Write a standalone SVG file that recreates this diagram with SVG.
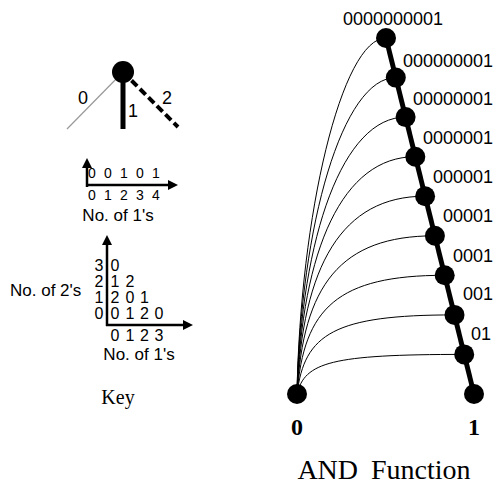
<svg xmlns="http://www.w3.org/2000/svg" width="496" height="487" viewBox="0 0 496 487">
<style>
.s{font-family:"Liberation Sans",Arial,sans-serif;fill:#000}
.t{font-family:"Liberation Serif","Times New Roman",serif;fill:#000}
.c{text-anchor:middle}
.e{text-anchor:end}
.d14{font-size:14px}
.d16{font-size:16px}
.d17{font-size:17px}
.d18{font-size:18px}
.nd{fill:#000}
.curve{fill:none;stroke:#000;stroke-width:1}
.ax{stroke:#000;stroke-width:2.5;fill:none}
</style>
<defs>
<marker id="ah" markerWidth="10" markerHeight="10" refX="0" refY="5" orient="auto" markerUnits="userSpaceOnUse">
<path d="M0,0 L10,5 L0,10 Z" fill="#000"/>
</marker>
</defs>
<rect width="496" height="487" fill="#fff"/>

<!-- Key: edge types -->
<g id="key-edges">
<line x1="123" y1="72" x2="67" y2="129" stroke="#999" stroke-width="1.2"/>
<line x1="123" y1="72" x2="123" y2="129" stroke="#000" stroke-width="5"/>
<line x1="123" y1="72" x2="178" y2="127" stroke="#000" stroke-width="4" stroke-dasharray="8 4"/>
<circle class="nd" cx="123" cy="72" r="11"/>
<text class="s d18 c" x="83" y="104">0</text>
<text class="s d18 c" x="133" y="117">1</text>
<text class="s d18 c" x="167" y="104">2</text>
</g>

<!-- Key: 1-D axis -->
<g id="key-axis1">
<line class="ax" x1="87" y1="187" x2="87" y2="168" marker-end="url(#ah)"/>
<line class="ax" x1="86" y1="185" x2="168" y2="185" marker-end="url(#ah)"/>
<text class="s d14 c" y="178"><tspan x="92">0</tspan><tspan x="108">0</tspan><tspan x="124">1</tspan><tspan x="140">0</tspan><tspan x="156">1</tspan></text>
<text class="s d14 c" y="200"><tspan x="92">0</tspan><tspan x="108">1</tspan><tspan x="124">2</tspan><tspan x="140">3</tspan><tspan x="156">4</tspan></text>
<text class="s d17 c" x="118" y="221">No. of 1's</text>
</g>

<!-- Key: 2-D axis -->
<g id="key-axis2">
<line class="ax" x1="107" y1="326" x2="107" y2="245" marker-end="url(#ah)"/>
<line class="ax" x1="106" y1="325" x2="183" y2="325" marker-end="url(#ah)"/>
<text class="s d16 c" x="99" y="271">3</text>
<text class="s d16 c" x="99" y="287">2</text>
<text class="s d16 c" x="99" y="303">1</text>
<text class="s d16 c" x="99" y="319">0</text>
<text class="s d16 c" y="271"><tspan x="115">0</tspan></text>
<text class="s d16 c" y="287"><tspan x="115">1</tspan><tspan x="130">2</tspan></text>
<text class="s d16 c" y="303"><tspan x="115">2</tspan><tspan x="130">0</tspan><tspan x="144.5">1</tspan></text>
<text class="s d16 c" y="319"><tspan x="115">0</tspan><tspan x="130">1</tspan><tspan x="144.5">2</tspan><tspan x="159">0</tspan></text>
<text class="s d16 c" y="341"><tspan x="115">0</tspan><tspan x="130">1</tspan><tspan x="144.5">2</tspan><tspan x="159">3</tspan></text>
<text class="s d17" x="10" y="296">No. of 2's</text>
<text class="s d17 c" x="139" y="360">No. of 1's</text>
</g>

<text id="key-label" class="t c" x="118" y="404" font-size="20">Key</text>

<!-- Connectors -->
<g id="connectors">
<path class="curve" d="M297,394 C300,216 341.5,38 386,38"/>
<path class="curve" d="M297,394 C300.6,223.9 342.7,77.6 395.8,77.6"/>
<path class="curve" d="M297,394 C301.3,234.8 343.2,117.1 405.6,117.1"/>
<path class="curve" d="M297,394 C301.9,248.7 342.8,156.7 415.3,156.7"/>
<path class="curve" d="M297,394 C302.5,265.4 341.8,196.2 425.1,196.2"/>
<path class="curve" d="M297,394 C303.1,285.2 340.1,235.8 434.9,235.8"/>
<path class="curve" d="M297,394 C303.8,307.9 337.6,275.3 444.7,275.3"/>
<path class="curve" d="M297,394 C304.4,333.7 334.4,314.9 454.5,314.9"/>
<path class="curve" d="M297,394 C305,362.3 330.4,354.4 464.2,354.4"/>
<line x1="386" y1="38" x2="474" y2="394" stroke="#000" stroke-width="5"/>
</g>

<!-- Nodes -->
<g id="n0"><circle class="nd" cx="297" cy="394" r="10"/><text class="t c" x="297" y="435" font-size="24" font-weight="bold">0</text></g>
<g id="n1"><circle class="nd" cx="386" cy="38" r="10"/><text class="s d18 c" x="393" y="25">0000000001</text></g>
<g id="n2"><circle class="nd" cx="395.8" cy="77.6" r="10"/><text class="s d18 e" x="493" y="67">000000001</text></g>
<g id="n3"><circle class="nd" cx="405.6" cy="117.1" r="10"/><text class="s d18 e" x="493" y="105">00000001</text></g>
<g id="n4"><circle class="nd" cx="415.3" cy="156.7" r="10"/><text class="s d18 e" x="493" y="144">0000001</text></g>
<g id="n5"><circle class="nd" cx="425.1" cy="196.2" r="10"/><text class="s d18 e" x="493" y="183">000001</text></g>
<g id="n6"><circle class="nd" cx="434.9" cy="235.8" r="10"/><text class="s d18 e" x="493" y="222">00001</text></g>
<g id="n7"><circle class="nd" cx="444.7" cy="275.3" r="10"/><text class="s d18 e" x="493" y="262">0001</text></g>
<g id="n8"><circle class="nd" cx="454.5" cy="314.9" r="10"/><text class="s d18 e" x="493" y="300">001</text></g>
<g id="n9"><circle class="nd" cx="464.2" cy="354.4" r="10"/><text class="s d18 e" x="491" y="340">01</text></g>
<g id="n10"><circle class="nd" cx="474" cy="394" r="10"/><text class="t c" x="474" y="435" font-size="24" font-weight="bold">1</text></g>

<text id="title" class="t c" x="384" y="479" font-size="28" word-spacing="6">AND Function</text>
</svg>
